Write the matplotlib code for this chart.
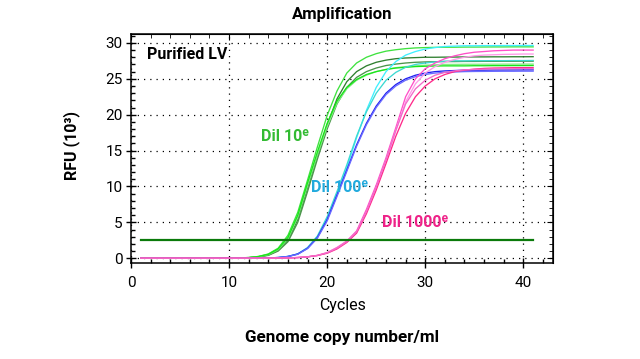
import matplotlib
matplotlib.use("Agg")
import matplotlib.pyplot as plt
from matplotlib.ticker import MultipleLocator

plt.rcParams['font.family'] = ['Roboto', 'DejaVu Sans']

cycles = list(range(1, 42))

# Dil 10e (green shades)
g1 = [0,0,0,0,0,0,0,0,0,0, 0.05,0.1,0.25,0.6,1.4, 3.2,6.4,10.9,15.5,19.9, 23.3,25.8,27.2,28.0,28.5,
      28.85,29.05,29.2,29.3,29.35, 29.38,29.4,29.4,29.42,29.42, 29.43,29.44,29.44,29.45,29.45,29.45]
g2 = [0,0,0,0,0,0,0,0,0,0, 0.03,0.08,0.2,0.45,1.1, 2.5,5.4,9.8,14.2,18.6, 22.2,24.6,26.0,26.8,27.3,
      27.6,27.8,27.9,27.95,28.0, 28.0,28.02,28.03,28.04,28.05, 28.05,28.06,28.06,28.07,28.07,28.08]
g3 = [0,0,0,0,0,0,0,0,0,0, 0.03,0.07,0.18,0.4,1.0, 2.3,5.0,9.3,13.8,18.0, 21.5,23.8,25.2,26.0,26.5,
      26.85,27.05,27.2,27.3,27.35, 27.38,27.4,27.4,27.42,27.42, 27.43,27.43,27.44,27.44,27.45,27.45]
g4 = [0,0,0,0,0,0,0,0,0,0, 0.04,0.1,0.22,0.5,1.2, 2.7,5.7,10.1,14.4,18.4, 21.6,23.6,24.8,25.5,26.0,
      26.3,26.55,26.7,26.8,26.9, 26.95,27.0,27.0,27.02,27.02, 27.03,27.03,27.04,27.04,27.05,27.05]
g5 = [0,0,0,0,0,0,0,0,0,0, 0.04,0.1,0.25,0.55,1.3, 2.9,6.0,10.5,14.8,18.8, 21.9,23.8,24.9,25.6,26.0,
      26.3,26.5,26.6,26.7,26.75, 26.78,26.8,26.8,26.8,26.82, 26.82,26.83,26.83,26.84,26.84,26.85]

# Dil 100e (cyan / blue)
c1 = [0,0,0,0,0,0,0,0,0,0,0,0, 0.02,0.05,0.1, 0.25,0.6,1.4,2.9,5.6, 9.0,12.6,16.8,20.6,23.8,
      26.0,27.4,28.3,28.8,29.15, 29.35,29.5,29.55,29.6,29.6, 29.62,29.62,29.63,29.63,29.64,29.64]
c2 = [0,0,0,0,0,0,0,0,0,0,0,0, 0.02,0.05,0.1, 0.25,0.6,1.5,3.1,5.8, 9.3,13.0,17.0,20.4,23.0,
      24.8,25.9,26.6,27.0,27.2, 27.35,27.45,27.5,27.5,27.52, 27.52,27.53,27.53,27.54,27.54,27.55]
b1 = [0,0,0,0,0,0,0,0,0,0,0,0, 0.02,0.05,0.1, 0.25,0.6,1.4,2.9,5.4, 8.8,12.3,15.8,18.8,21.2,
      23.0,24.2,25.0,25.5,25.8, 26.0,26.1,26.15,26.2,26.2, 26.2,26.22,26.22,26.23,26.23,26.24]
b2 = [0,0,0,0,0,0,0,0,0,0,0,0, 0.02,0.05,0.1, 0.25,0.55,1.35,2.8,5.2, 8.6,12.1,15.6,18.6,21.0,
      22.8,24.0,24.8,25.3,25.6, 25.8,25.9,25.95,26.0,26.02, 26.03,26.04,26.05,26.05,26.06,26.06]

# Dil 1000e (pink / magenta)
p1 = [0,0,0,0,0,0,0,0,0,0,0,0,0,0, 0.02, 0.05,0.1,0.2,0.4,0.8, 1.5,2.4,3.8,6.8,10.2,
      14.0,18.2,22.5,25.0,26.4, 27.2,27.8,28.2,28.5,28.7, 28.8,28.9,28.95,29.0,29.0,29.0]
p2 = [0,0,0,0,0,0,0,0,0,0,0,0,0,0, 0.02, 0.05,0.1,0.2,0.38,0.75, 1.4,2.3,3.6,6.4,9.8,
      13.6,17.8,21.8,24.3,25.8, 26.7,27.3,27.7,28.0,28.2, 28.3,28.35,28.4,28.42,28.45,28.45]
p3 = [0,0,0,0,0,0,0,0,0,0,0,0,0,0, 0.02, 0.05,0.1,0.2,0.38,0.7, 1.3,2.2,3.5,6.2,9.5,
      13.2,17.0,20.2,22.5,24.0, 25.0,25.6,26.0,26.2,26.35, 26.45,26.5,26.52,26.55,26.55,26.56]
p4 = [0,0,0,0,0,0,0,0,0,0,0,0,0,0, 0.02, 0.05,0.1,0.2,0.4,0.75, 1.4,2.3,3.7,6.5,9.9,
      13.7,17.8,21.5,23.6,24.8, 25.5,25.9,26.1,26.25,26.3, 26.35,26.38,26.4,26.4,26.42,26.42]

threshold = 2.6
threshold_span = [1, 41]

series = [g1, g2, g3, g4, g5, c1, c2, b1, b2, p1, p2, p3, p4]
colors = ['#3fe23f', '#2f7f2f', '#4a944a', '#86ec86', '#19e619',
          '#3ff0ff', '#3cd9d2', '#2020f0', '#6a6aff',
          '#ff4fc8', '#ff9ae8', '#ff2a8a', '#f26ac9']

labels = ["Dil 10ᵉ", "Dil 100ᵉ", "Dil 1000ᵉ"]
label_colors = ['#33bb33', '#22aadd', '#ee2288']
label_pos = [(13.3, 17.0), (18.4, 9.8), (25.6, 5.0)]

fig = plt.figure(figsize=(6.4, 3.59), dpi=100)
ax = fig.add_axes([0.2047, 0.2666, 0.659, 0.6379])

for ys, col in zip(series, colors):
    ax.plot(cycles, ys, color=col, lw=0.95, solid_joinstyle='round')

ax.plot(threshold_span, [threshold, threshold], color='#0b7a0b', lw=1.6)

ax.set_xlim(0, 43)
ax.set_ylim(-0.7, 31.2)
ax.xaxis.set_major_locator(MultipleLocator(10))
ax.xaxis.set_minor_locator(MultipleLocator(2))
ax.yaxis.set_major_locator(MultipleLocator(5))
ax.yaxis.set_minor_locator(MultipleLocator(1))
ax.grid(True, which='major', color='black', linestyle=(0, (1, 4)), lw=0.9)
ax.tick_params(which='major', direction='inout', length=7, width=1, labelsize=11, colors='black')
ax.tick_params(which='minor', direction='in', length=3, width=1)
ax.tick_params(axis='x', which='major', pad=5.5)
ax.tick_params(axis='y', which='major', pad=2.5)
for s in ax.spines.values():
    s.set_linewidth(1.1)

secx = ax.secondary_xaxis('top')
secx.xaxis.set_major_locator(MultipleLocator(10))
secx.xaxis.set_minor_locator(MultipleLocator(2))
secx.tick_params(which='major', direction='in', length=4, labeltop=False)
secx.tick_params(which='minor', direction='in', length=3)
secy = ax.secondary_yaxis('right')
secy.yaxis.set_major_locator(MultipleLocator(5))
secy.yaxis.set_minor_locator(MultipleLocator(1))
secy.tick_params(which='major', direction='in', length=4, labelright=False)
secy.tick_params(which='minor', direction='in', length=3)

ax.text(1.6, 28.4, "Purified LV", fontsize=11.5, fontweight='bold', color='black', va='center', ha='left')
for txt, col, (x, y) in zip(labels, label_colors, label_pos):
    ax.text(x, y, txt, fontsize=11.5, fontweight='bold', color=col, va='center', ha='left')

fig.text(0.535, 0.961, "Amplification", ha='center', va='center', fontsize=12, fontweight='bold')
fig.text(0.535, 0.150, "Cycles", ha='center', va='center', fontsize=11.5)
fig.text(0.535, 0.0585, "Genome copy number/ml", ha='center', va='center', fontsize=12.3, fontweight='bold')
fig.text(0.1125, 0.595, "RFU (10³)", ha='center', va='center', rotation=90, fontsize=11.5, fontweight='bold')

fig.savefig("out.png", dpi=100)
